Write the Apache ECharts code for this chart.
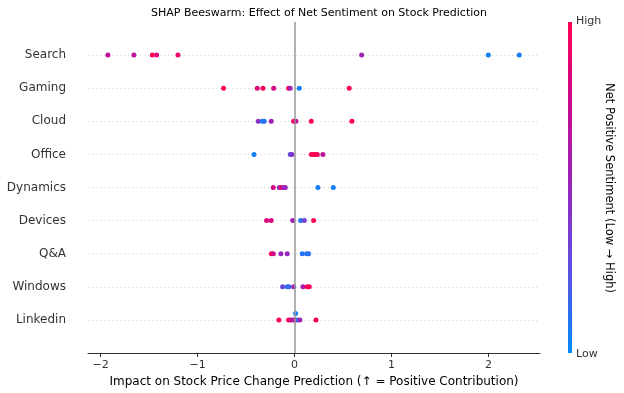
<!DOCTYPE html>
<html><head><meta charset="utf-8">
<script src="https://cdn.jsdelivr.net/npm/echarts@6/dist/echarts.min.js"></script>
<style>html,body{margin:0;padding:0;background:#fff}#c{width:624px;height:393px}</style>
</head><body><div id="c"></div>
<script>
// categories, bottom (index 0) to top
const categories = ['Linkedin','Windows','Q&A','Devices','Dynamics','Office','Cloud','Gaming','Search'];
// SHAP values per category
const shapLinkedin = [-0.162,-0.062,-0.038,-0.014,0.010,0.034,0.055,0.220,0.010];
const shapWindows  = [-0.124,-0.076,-0.058,-0.010,0.086,0.131,0.151];
const shapQA       = [-0.240,-0.220,-0.141,-0.076,0.079,0.124,0.144];
const shapDevices  = [-0.289,-0.241,-0.020,0.062,0.100,0.196];
const shapDynamics = [-0.220,-0.158,-0.137,-0.117,-0.096,0.240,0.399];
const shapOffice   = [-0.419,-0.045,-0.027,0.172,0.196,0.213,0.234,0.292];
const shapCloud    = [-0.375,-0.333,-0.313,-0.241,-0.010,0.014,0.172,0.591];
const shapGaming   = [-0.732,-0.385,-0.326,-0.216,-0.062,-0.045,0.048,0.563];
const shapSearch   = [-1.925,-1.657,-1.467,-1.423,-1.203,0.691,1.997,2.316];
// feature values (net positive sentiment, 0 = low, 1 = high)
const featLinkedin = [1.0,1.0,0.8,0.6,0.8,0.1,0.55,0.95,0.05];
const featWindows  = [0.3,0.1,0.15,0.55,0.6,1.0,1.0];
const featQA       = [1.0,0.8,0.5,0.5,0.1,0.1,0.1];
const featDevices  = [0.85,0.8,0.55,0.1,0.35,1.0];
const featDynamics = [0.8,0.45,1.0,0.55,0.5,0.05,0.05];
const featOffice   = [0.05,0.3,0.4,1.0,1.0,1.0,0.95,0.7];
const featCloud    = [0.45,0.1,0.1,0.55,1.0,0.75,1.0,1.0];
const featGaming   = [1.0,0.85,0.95,0.8,1.0,0.55,0.05,1.0];
const featSearch   = [0.7,0.7,1.0,0.85,0.9,0.55,0.05,0.05];
// beeswarm vertical offsets (in row units)
const jitLinkedin = [0,0,0,0,0,0,0,0,0.19];
const xTicks = [-2,-1,0,1,2];
const colorStops = ['#008bfb', '#5f4fe3', '#9626bd', '#c80b8f', '#ff0052'];

const shapRows = [shapLinkedin,shapWindows,shapQA,shapDevices,shapDynamics,shapOffice,shapCloud,shapGaming,shapSearch];
const featRows = [featLinkedin,featWindows,featQA,featDevices,featDynamics,featOffice,featCloud,featGaming,featSearch];
const jitRows  = [jitLinkedin];

const points = [];
shapRows.forEach((row, i) => {
  row.forEach((v, j) => {
    const jit = (jitRows[i] && jitRows[i][j]) || 0;
    points.push([v, i + jit, featRows[i][j]]);
  });
});
const rowIdx = categories.map((c, i) => i);

const FONT = 'DejaVu Sans';
const chart = echarts.init(document.getElementById('c'), null, {renderer: 'canvas'});
chart.setOption({
  animation: false,
  textStyle: {fontFamily: FONT},
  title: {
    text: 'SHAP Beeswarm: Effect of Net Sentiment on Stock Prediction',
    left: 314, top: 3, textAlign: 'center',
    textStyle: {fontFamily: FONT, fontSize: 11, fontWeight: 'normal', color: '#000'}
  },
  grid: {left: 88, right: 84, top: 22, bottom: 40, containLabel: false, outerBoundsMode: 'none'},
  xAxis: {
    type: 'value', min: -2.13, max: 2.53,
    name: 'Impact on Stock Price Change Prediction (↑ = Positive Contribution)',
    nameLocation: 'middle', nameGap: 22,
    nameTextStyle: {fontFamily: FONT, fontSize: 12, color: '#000'},
    axisLine: {show: true, onZero: false, lineStyle: {color: '#333', width: 1}},
    axisTick: {show: true, length: 4, lineStyle: {color: '#333'}, customValues: xTicks},
    axisLabel: {customValues: xTicks, fontFamily: FONT, fontSize: 11, color: '#333', margin: 7,
      formatter: v => (v < 0 ? '\u2212' + Math.abs(v) : String(v))},
    splitLine: {show: false}
  },
  yAxis: {
    type: 'value', min: -1, max: 9,
    axisLine: {show: false},
    axisTick: {show: false, customValues: rowIdx},
    axisLabel: {customValues: rowIdx, fontFamily: FONT, fontSize: 12, color: '#333', margin: 22,
      formatter: v => categories[Math.round(v)] || ''},
    splitLine: {show: true, lineStyle: {color: '#ccc', type: [1, 3], width: 0.8}}
  },
  visualMap: {
    type: 'continuous', min: 0, max: 1, dimension: 2, seriesIndex: 0, show: false,
    inRange: {color: colorStops}
  },
  graphic: [
    {type: 'rect', shape: {x: 568, y: 22, width: 4, height: 331},
      style: {fill: new echarts.graphic.LinearGradient(0, 1, 0, 0,
        colorStops.map((c, i) => ({offset: i / (colorStops.length - 1), color: c})))}},
    {type: 'text', x: 576, y: 21, style: {text: 'High', fontFamily: FONT, fontSize: 11, fill: '#333', verticalAlign: 'middle'}},
    {type: 'text', x: 576, y: 354, style: {text: 'Low', fontFamily: FONT, fontSize: 11, fill: '#333', verticalAlign: 'middle'}},
    {type: 'text', x: 609, y: 188, rotation: -Math.PI / 2,
      style: {text: 'Net Positive Sentiment (Low \u2192 High)', fontFamily: FONT, fontSize: 11.5, fill: '#000',
        align: 'center', verticalAlign: 'middle'}}
  ],
  series: [{
    type: 'scatter', data: points, symbolSize: 5,
    itemStyle: {opacity: 1},
    markLine: {
      silent: true, symbol: 'none', label: {show: false},
      lineStyle: {color: '#999', width: 1.5, type: 'solid'},
      data: [{xAxis: 0}]
    },
    z: 3
  }]
});
</script></body></html>
